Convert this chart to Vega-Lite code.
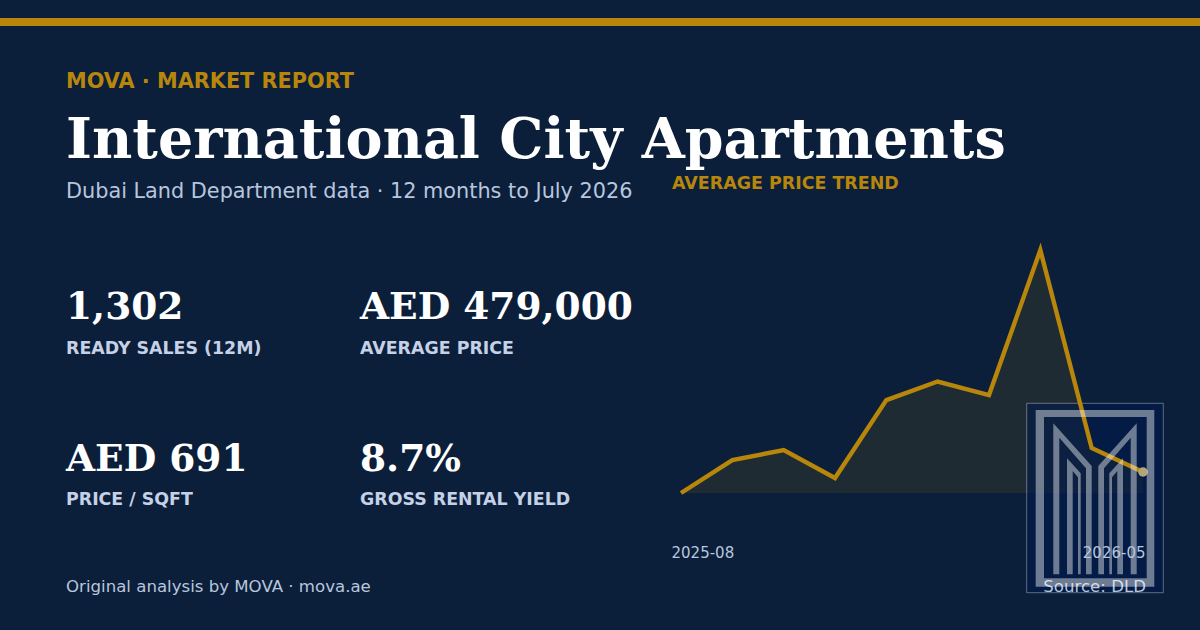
{
  "$schema": "https://vega.github.io/schema/vega-lite/v6.json",
  "description": "MOVA market report card: International City Apartments",
  "width": 1200,
  "height": 630,
  "autosize": {"type": "fit", "contains": "padding"},
  "padding": 0,
  "background": "#0b1f3a",
  "config": {"view": {"stroke": null}, "font": "DejaVu Sans"},
  "datasets": {
    "trend": [
      {"month": "2025-08", "price": 430000},
      {"month": "2025-09", "price": 453000},
      {"month": "2025-10", "price": 460000},
      {"month": "2025-11", "price": 440500},
      {"month": "2025-12", "price": 495000},
      {"month": "2026-01", "price": 508000},
      {"month": "2026-02", "price": 498500},
      {"month": "2026-03", "price": 600000},
      {"month": "2026-04", "price": 461500},
      {"month": "2026-05", "price": 444700}
    ],
    "kpis": [
      {"value": "1,302", "label": "READY SALES (12M)", "col": "left", "row": "top"},
      {"value": "AED 479,000", "label": "AVERAGE PRICE", "col": "right", "row": "top"},
      {"value": "AED 691", "label": "PRICE / SQFT", "col": "left", "row": "bottom"},
      {"value": "8.7%", "label": "GROSS RENTAL YIELD", "col": "right", "row": "bottom"}
    ]
  },
  "resolve": {"scale": {"x": "independent", "y": "independent"}},
  "layer": [
    {
      "data": {"values": [{}]},
      "mark": {"type": "rect", "x": 0, "x2": 1200, "y": 18, "y2": 26, "fill": "#b8860b"},
      "encoding": {}
    },
    {
      "data": {"values": [{"t": "MOVA · MARKET REPORT"}]},
      "mark": {"type": "text", "x": 66, "y": 88, "align": "left", "baseline": "alphabetic", "font": "DejaVu Sans", "fontWeight": "bold", "fontSize": 20.8, "fill": "#b8860b"},
      "encoding": {"text": {"field": "t"}}
    },
    {
      "data": {"values": [{"t": "International City Apartments"}]},
      "mark": {"type": "text", "x": 66, "y": 158, "align": "left", "baseline": "alphabetic", "font": "DejaVu Serif", "fontWeight": "bold", "fontSize": 55.5, "fill": "#ffffff"},
      "encoding": {"text": {"field": "t"}}
    },
    {
      "data": {"values": [{"t": "Dubai Land Department data · 12 months to July 2026"}]},
      "mark": {"type": "text", "x": 66, "y": 198, "align": "left", "baseline": "alphabetic", "font": "DejaVu Sans", "fontSize": 20.8, "fill": "#b8c6de"},
      "encoding": {"text": {"field": "t"}}
    },
    {
      "data": {"name": "kpis"},
      "mark": {"type": "text", "align": "left", "baseline": "alphabetic", "font": "DejaVu Serif", "fontWeight": "bold", "fontSize": 37.5, "fill": "#ffffff"},
      "encoding": {
        "x": {"field": "col", "type": "nominal", "axis": null, "scale": {"type": "point", "domain": ["left", "right"], "range": [66, 360], "padding": 0}},
        "y": {"field": "row", "type": "nominal", "axis": null, "scale": {"type": "point", "domain": ["top", "bottom"], "range": [319, 471], "padding": 0}},
        "text": {"field": "value"}
      }
    },
    {
      "data": {"name": "kpis"},
      "mark": {"type": "text", "align": "left", "baseline": "alphabetic", "font": "DejaVu Sans", "fontWeight": "bold", "fontSize": 17.4, "fill": "#c5d1e6"},
      "encoding": {
        "x": {"field": "col", "type": "nominal", "axis": null, "scale": {"type": "point", "domain": ["left", "right"], "range": [66, 360], "padding": 0}},
        "y": {"field": "row", "type": "nominal", "axis": null, "scale": {"type": "point", "domain": ["top", "bottom"], "range": [354, 505], "padding": 0}},
        "text": {"field": "label"}
      }
    },
    {
      "data": {"values": [{"t": "Original analysis by MOVA · mova.ae"}]},
      "mark": {"type": "text", "x": 66, "y": 592, "align": "left", "baseline": "alphabetic", "font": "DejaVu Sans", "fontSize": 16.6, "fill": "#b8c6de"},
      "encoding": {"text": {"field": "t"}}
    },
    {
      "data": {"values": [{"t": "AVERAGE PRICE TREND"}]},
      "mark": {"type": "text", "x": 672, "y": 189, "align": "left", "baseline": "alphabetic", "font": "DejaVu Sans", "fontWeight": "bold", "fontSize": 17.45, "fill": "#b8860b"},
      "encoding": {"text": {"field": "t"}}
    },
    {
      "data": {"name": "trend"},
      "mark": {"type": "area", "fill": "#b8860b", "fillOpacity": 0.12},
      "encoding": {
        "x": {"field": "month", "type": "ordinal", "sort": null, "axis": null, "scale": {"type": "point", "range": [681, 1143], "padding": 0}},
        "y": {"field": "price", "type": "quantitative", "axis": null, "scale": {"domain": [430000, 600000], "range": [493, 250], "nice": false, "zero": false}},
        "y2": {"datum": 430000}
      }
    },
    {
      "data": {"values": [{}]},
      "mark": {
        "type": "point",
        "x": 1095,
        "y": 498,
        "size": 40000,
        "filled": true,
        "shape": "M-0.683,-0.947L0.683,-0.947L0.683,0.947L-0.683,0.947Z",
        "fill": "#001a4d",
        "fillOpacity": 0.6,
        "stroke": "#ffffff",
        "strokeOpacity": 0.35,
        "strokeWidth": 1
      },
      "encoding": {}
    },
    {
      "data": {"values": [{"t": "Source: DLD"}]},
      "mark": {"type": "text", "x": 1146, "y": 592, "align": "right", "baseline": "alphabetic", "font": "DejaVu Sans", "fontSize": 16.6, "fill": "#b8c6de"},
      "encoding": {"text": {"field": "t"}}
    },
    {
      "data": {"name": "trend"},
      "encoding": {
        "x": {
          "field": "month",
          "type": "ordinal",
          "sort": null,
          "title": null,
          "scale": {"type": "point", "range": [681, 1143], "padding": 0},
          "axis": {
            "orient": "bottom",
            "offset": -85,
            "domain": false,
            "ticks": false,
            "zindex": 1,
            "labelAngle": 0,
            "values": ["2025-08", "2026-05"],
            "labelFont": "DejaVu Sans",
            "labelFontSize": 15,
            "labelColor": "#b8c6de",
            "labelPadding": 0,
            "labelAlign": {"expr": "datum.value == '2025-08' ? 'left' : 'right'"},
            "labelOffset": {"expr": "datum.value == '2025-08' ? -10 : 2"}
          }
        },
        "y": {
          "field": "price",
          "type": "quantitative",
          "title": null,
          "axis": null,
          "scale": {"domain": [430000, 600000], "range": [493, 250], "nice": false, "zero": false}
        }
      },
      "layer": [
        {"mark": {"type": "line", "stroke": "#b8860b", "strokeWidth": 4.4}},
        {
          "transform": [{"filter": "datum.month == '2026-05'"}],
          "mark": {"type": "circle", "size": 90, "fill": "#b0a67c", "opacity": 1}
        }
      ]
    },
    {
      "data": {"values": [{}]},
      "mark": {
        "type": "point",
        "x": 1095,
        "y": 498,
        "size": 40000,
        "filled": true,
        "fill": "#ffffff",
        "fillOpacity": 0.42,
        "strokeWidth": 0,
        "shape": "M-0.593,-0.88L0.593,-0.88L0.593,0.887L-0.593,0.887ZM-0.51,-0.81L-0.51,0.803L0.517,0.803L0.517,-0.81ZM-0.417,0.763L-0.417,-0.747L-0.033,-0.32L-0.033,0.763L-0.09,0.763L-0.09,-0.297L-0.357,-0.603L-0.357,0.763ZM-0.28,0.763L-0.28,-0.397L-0.143,-0.247L-0.143,0.763L-0.17,0.763L-0.17,-0.207L-0.223,-0.27L-0.223,0.763ZM0.417,0.763L0.417,-0.747L0.033,-0.32L0.033,0.763L0.09,0.763L0.09,-0.297L0.357,-0.603L0.357,0.763ZM0.28,0.763L0.28,-0.397L0.143,-0.247L0.143,0.763L0.17,0.763L0.17,-0.207L0.223,-0.27L0.223,0.763Z"
      },
      "encoding": {}
    }
  ]
}
